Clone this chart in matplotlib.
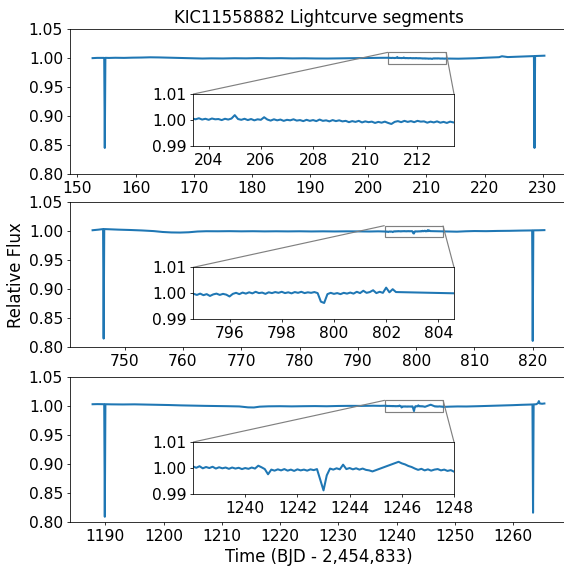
import numpy as np
import matplotlib
matplotlib.use("Agg")
import matplotlib.pyplot as plt
from mpl_toolkits.axes_grid1.inset_locator import mark_inset

plt.rcParams['font.size'] = 16

# ---- segment 1 -------------------------------------------------------------
seg1_t = [152.6, 153.4, 154.2, 154.6, 154.7, 154.8, 155.4, 156.5, 158.0, 159.5,
          161.0, 162.5, 164.0, 165.5, 167.0, 168.5, 170.0, 171.5, 173.0, 175.0,
          177.0, 179.0, 181.0, 183.0, 185.0, 187.0, 189.0, 191.0, 193.0, 195.0,
          197.0, 199.0, 200.5, 202.0,
          214.0, 215.5, 217.0, 218.5, 220.0, 221.5, 222.5, 223.0, 224.0, 225.5,
          227.0, 228.0, 228.5, 228.6, 228.7, 229.2, 229.8, 230.3]
seg1_f = [1.0000, 1.0004, 1.0003, 1.0004, 0.845, 1.0005, 1.0003, 1.0006, 1.0004, 1.0008,
          1.0010, 1.0014, 1.0012, 1.0008, 1.0005, 1.0001, 0.9995, 0.9993, 0.9996, 0.9994,
          0.9998, 0.9996, 1.0000, 0.9997, 0.9999, 0.9995, 0.9997, 0.9994, 0.9993, 0.9996,
          0.9998, 1.0001, 1.0003, 1.0005,
          0.9992, 0.9990, 0.9994, 0.9998, 1.0006, 1.0012, 1.0016, 1.0032, 1.0018, 1.0024,
          1.0030, 1.0034, 1.0035, 0.845, 1.0036, 1.0038, 1.0040, 1.0042]
# 3-hour samples from 203.375 d
seg1_fine_start = 203.375
seg1_fine_f = [1.0006, 1.0003, 1.0007, 1.0002, 1.0005, 1.0001, 1.0006, 1.0003, 1.0004, 1.0000,
               1.0005, 1.0002, 1.0006, 1.0019, 1.0004, 1.0001, 1.0005, 1.0000, 1.0004, 0.9999,
               1.0003, 1.0001, 1.0011, 1.0002, 0.9998, 1.0003, 0.9999, 1.0002, 0.9997, 1.0001,
               0.9999, 1.0003, 0.9998, 1.0000, 0.9996, 1.0001, 0.9997, 1.0000, 0.9996, 1.0002,
               0.9997, 0.9999, 0.9995, 1.0000, 0.9996, 0.9999, 0.9995, 0.9997, 0.9992, 0.9996,
               0.9993, 0.9997, 0.9991, 0.9995, 0.9992, 0.9994, 0.9989, 0.9993, 0.9990, 0.9994,
               0.9989, 0.9985, 0.9993, 0.9996, 0.9992, 0.9997, 0.9993, 0.9996, 0.9992, 0.9997,
               0.9994, 0.9995, 0.9990, 0.9994, 0.9991, 0.9995, 0.9990, 0.9993, 0.9989, 0.9994,
               0.9991]

# ---- segment 2 -------------------------------------------------------------
seg2_t = [744.5, 745.5, 746.3, 746.4, 746.5, 747.5, 749.0, 751.0, 753.0, 755.0,
          756.5, 758.0, 759.5, 761.0, 762.5, 764.0, 766.0, 768.0, 770.0, 772.0,
          774.0, 776.0, 778.0, 780.0, 782.0, 784.0, 786.0, 788.0, 790.0, 792.0,
          793.5,
          807.0, 808.5, 810.0, 812.0, 814.0, 816.0, 818.0, 819.5, 819.9, 820.0,
          820.1, 821.0, 822.0]
seg2_f = [1.0020, 1.0030, 1.0040, 0.815, 1.0040, 1.0036, 1.0030, 1.0024, 1.0016, 1.0005,
          0.9990, 0.9982, 0.9980, 0.9985, 0.9998, 1.0003, 1.0002, 1.0004, 1.0001, 1.0003,
          1.0000, 1.0002, 1.0000, 1.0002, 0.9999, 1.0001, 0.9999, 1.0001, 1.0000, 0.9998,
          1.0001,
          0.9995, 1.0002, 1.0006, 1.0004, 1.0008, 1.0010, 1.0014, 1.0016, 1.0017, 0.811,
          1.0018, 1.0019, 1.0022]
seg2_fine_start = 794.625
seg2_fine_f = [0.9998, 0.9994, 0.9999, 0.9993, 0.9997, 0.9990, 0.9996, 0.9999, 0.9994, 0.9998,
               0.9995, 0.9988, 0.9998, 1.0002, 0.9997, 1.0003, 0.9999, 1.0004, 1.0000, 1.0006,
               1.0001, 1.0003, 0.9998, 1.0004, 1.0001, 1.0005, 1.0002, 1.0006, 1.0001, 1.0004,
               1.0000, 1.0005, 1.0002, 1.0006, 1.0001, 1.0004, 1.0002, 1.0005, 1.0001, 0.9968,
               0.9963, 0.9997, 1.0002, 0.9998, 1.0001, 0.9997, 1.0002, 0.9999, 1.0003, 0.9999,
               1.0006, 1.0001, 1.0010, 1.0002, 1.0005, 1.0012, 1.0001, 1.0006, 1.0002, 1.0022,
               1.0004, 1.0016, 1.0005]

# ---- segment 3 -------------------------------------------------------------
seg3_t = [1187.8, 1188.6, 1189.4, 1189.8, 1189.9, 1190.0, 1191.0, 1193.0, 1195.0, 1197.0,
          1199.0, 1201.0, 1203.0, 1205.0, 1207.0, 1209.0, 1211.0, 1213.0, 1214.5, 1215.5,
          1216.5, 1218.0, 1220.0, 1222.0, 1224.0, 1226.0, 1228.0, 1230.0, 1232.0, 1234.0,
          1236.0, 1237.2,
          1249.0, 1250.5, 1252.0, 1254.0, 1256.0, 1258.0, 1260.0, 1261.5, 1262.8, 1263.35,
          1263.45, 1263.55, 1264.0, 1264.3, 1264.45, 1264.6, 1265.0, 1265.4]
seg3_f = [1.0032, 1.0034, 1.0033, 1.0032, 0.809, 1.0032, 1.0030, 1.0028, 1.0030, 1.0026,
          1.0022, 1.0018, 1.0012, 1.0008, 1.0004, 1.0001, 0.9998, 0.9994, 0.9978, 0.9976,
          0.9990, 0.9996, 0.9998, 0.9995, 0.9998, 1.0000, 0.9997, 1.0002, 1.0004, 1.0003,
          1.0006, 1.0004,
          0.9990, 0.9994, 0.9993, 0.9998, 1.0004, 1.0010, 1.0016, 1.0022, 1.0026, 1.0028,
          0.816, 1.0029, 1.0032, 1.0050, 1.0086, 1.0045, 1.0040, 1.0045]
seg3_fine_start = 1238.0
seg3_fine_f = [1.0006, 1.0001, 1.0007, 0.9999, 1.0004, 1.0000, 1.0005, 0.9998, 1.0003, 0.9999,
               1.0002, 0.9997, 1.0002, 0.9998, 1.0001, 0.9996, 1.0000, 0.9997, 1.0002, 0.9998,
               1.0009, 1.0003, 0.9996, 0.9976, 0.9994, 0.9990, 0.9995, 0.9991, 0.9996, 0.9990,
               0.9994, 0.9989, 0.9995, 0.9991, 0.9994, 0.9990, 0.9995, 0.9992, 0.9996, 0.9955,
               0.9914, 0.9972, 0.9998, 0.9994, 0.9999, 0.9995, 1.0013, 0.9996, 1.0000, 0.9995,
               0.9999, 0.9994, 0.9998, 0.9993, 0.9991, 0.9987]
# data resumes after a short gap
seg3_fine2_start = 1245.875
seg3_fine2_f = [1.0024, 1.0018, 1.0014, 1.0008, 1.0004, 0.9998, 0.9993, 0.9997, 0.9991, 0.9995,
                0.9990, 0.9994, 0.9996, 0.9991, 0.9994, 0.9989, 0.9992, 0.9986]

cadence = 0.125

xticks_main = [np.arange(150, 231, 10), np.arange(750, 821, 10), np.arange(1190, 1261, 10)]
inset_xlims = [(203.4, 213.4), (794.6, 804.6), (1238.0, 1248.0)]
inset_xticks = [np.arange(204, 213, 2), np.arange(796, 805, 2), np.arange(1240, 1249, 2)]


def build_segment(t, f, chunks):
    t = list(t)
    f = list(f)
    for start, vals in chunks:
        t += list(start + cadence * np.arange(len(vals)))
        f += list(vals)
    t = np.array(t)
    f = np.array(f)
    order = np.argsort(t)
    return t[order], f[order]


segments = [
    build_segment(seg1_t, seg1_f, [(seg1_fine_start, seg1_fine_f)]),
    build_segment(seg2_t, seg2_f, [(seg2_fine_start, seg2_fine_f)]),
    build_segment(seg3_t, seg3_f, [(seg3_fine_start, seg3_fine_f),
                                   (seg3_fine2_start, seg3_fine2_f)]),
]

fig = plt.figure(figsize=(564 / 70, 567 / 70), dpi=70)
bottoms = [0.6931, 0.3875, 0.0794]
axes = []
for i, (t, f) in enumerate(segments):
    ax = fig.add_axes([0.1241, bottoms[i], 0.8812, 0.2555])
    ax.plot(t, f, color='#1f77b4', lw=2.1)
    ax.set_ylim(0.80, 1.05)
    ax.set_yticks([0.80, 0.85, 0.90, 0.95, 1.00, 1.05])
    ax.set_xticks(xticks_main[i])

    axins = ax.inset_axes([0.2475, 0.193, 0.5252, 0.3586])
    axins.plot(t, f, color='#1f77b4', lw=2.1)
    axins.set_xlim(*inset_xlims[i])
    axins.set_ylim(0.99, 1.01)
    axins.set_yticks([0.99, 1.00, 1.01])
    axins.set_xticks(inset_xticks[i])
    mark_inset(ax, axins, loc1=2, loc2=1, fc="none", ec="0.5", lw=1.2)
    axes.append(ax)

axes[0].set_title('KIC11558882 Lightcurve segments', fontsize=17)
axes[1].set_ylabel('Relative Flux', fontsize=17)
axes[2].set_xlabel('Time (BJD - 2,454,833)', fontsize=17)

fig.savefig('out.png', dpi=70)
